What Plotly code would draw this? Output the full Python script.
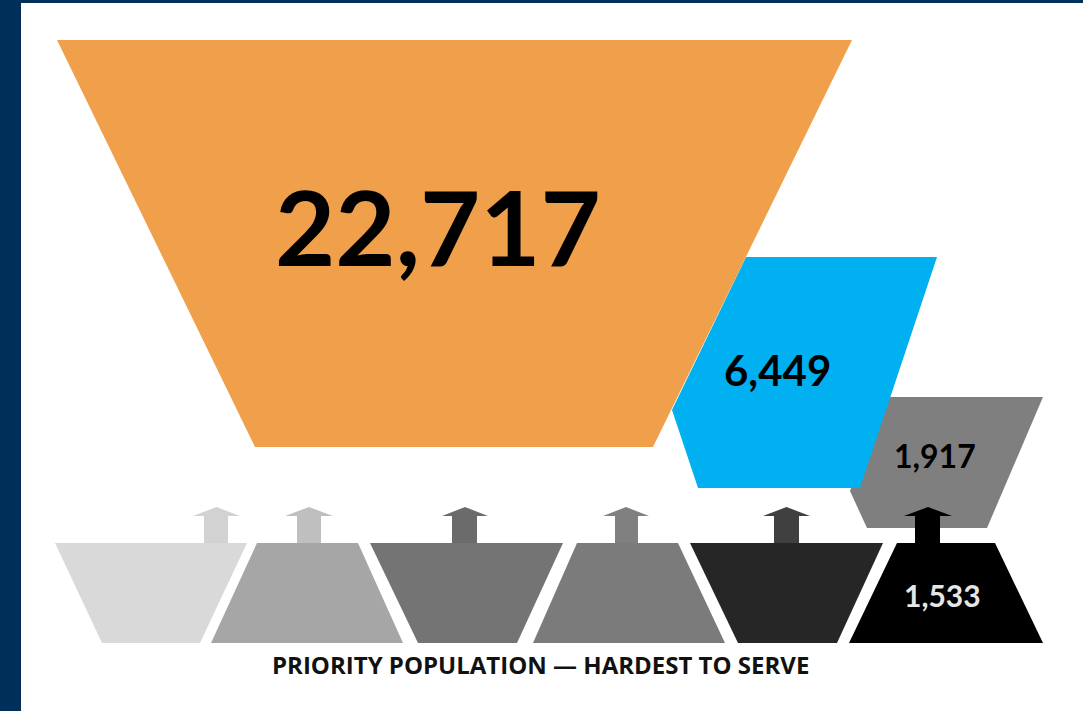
import plotly.graph_objects as go

# ---- data ----
funnel_values = [22717, 6449, 1917, 1533]
funnel_labels = [f"{v:,}" for v in funnel_values]
bottom_caption = "PRIORITY POPULATION — HARDEST TO SERVE"

# ---- geometry (pixel layout of the infographic) ----
W, H = 1083, 711
NAVY = "#00305a"

orange_poly = [(57, 40), (852, 40), (653, 447), (255, 447)]
blue_poly = [(746, 257), (937, 257), (860, 488), (698, 488), (672, 410)]
gray_poly = [(887, 397), (1043, 397), (987, 528), (867, 528), (850, 491)]

row_top, row_bot = 543, 643
row_shapes = [  # (top-left, top-right, bottom-left, bottom-right)
    (55, 247, 102, 200),
    (257, 358, 211, 403),
    (370, 563, 418, 517),
    (577, 678, 533, 725),
    (690, 883, 738, 837),
    (897, 995, 849, 1043),
]
row_colors = ["#d9d9d9", "#a6a6a6", "#747474", "#7b7b7b", "#262626", "#000000"]
arrow_x = [(204, 228, 193, 240), (297, 321, 285, 333), (452, 477, 442, 488),
           (615, 638, 603, 649), (774, 799, 763, 810), (915, 940, 904, 952)]
arrow_colors = ["#d2d2d2", "#bfbfbf", "#6b6b6b", "#808080", "#404040", "#000000"]
arrow_apex, arrow_base = 507, 516

fig = go.Figure()


def poly(points, color):
    xs = [p[0] for p in points] + [points[0][0]]
    ys = [p[1] for p in points] + [points[0][1]]
    fig.add_trace(go.Scatter(x=xs, y=ys, mode="lines", fill="toself",
                             fillcolor=color, line=dict(width=0, color=color),
                             hoverinfo="skip", showlegend=False))


# navy frame
poly([(0, 0), (W, 0), (W, 3), (21, 3), (21, H), (0, H)], NAVY)

poly(gray_poly, "#7f7f7f")
poly(blue_poly, "#00b0f0")
poly(orange_poly, "#f0a04b")

for (tl, tr, bl, br), c in zip(row_shapes, row_colors):
    poly([(tl, row_top), (tr, row_top), (br, row_bot), (bl, row_bot)], c)

for (s0, s1, h0, h1), c in zip(arrow_x, arrow_colors):
    mid = (h0 + h1) / 2
    poly([(s0, row_top), (s0, arrow_base), (h0, arrow_base), (mid, arrow_apex),
          (h1, arrow_base), (s1, arrow_base), (s1, row_top)], c)

FONT = "Lato"
label_pos = [(438, 225, 104, "#000000"), (777, 370, 42, "#000000"),
             (935, 455, 32, "#000000"), (942, 595, 30, "#e6e6e6")]
for txt, (x, y, s, c) in zip(funnel_labels, label_pos):
    fig.add_annotation(x=x, y=y, text=f"<b>{txt}</b>", showarrow=False,
                       font=dict(family=FONT, size=s, color=c),
                       xanchor="center", yanchor="middle")

fig.add_annotation(x=540, y=664, text=f"<b>{bottom_caption}</b>", showarrow=False,
                   font=dict(family="Open Sans", size=24, color="#111111"),
                   xanchor="center", yanchor="middle")

fig.update_layout(
    width=W, height=H, autosize=False,
    margin=dict(l=0, r=0, t=0, b=0),
    paper_bgcolor="white", plot_bgcolor="white",
    xaxis=dict(range=[0, W], visible=False, fixedrange=True),
    yaxis=dict(range=[H, 0], visible=False, fixedrange=True),
    showlegend=False,
)

fig.write_html("out.html", config={"displayModeBar": False},
               post_script="document.body.style.margin='0';")
